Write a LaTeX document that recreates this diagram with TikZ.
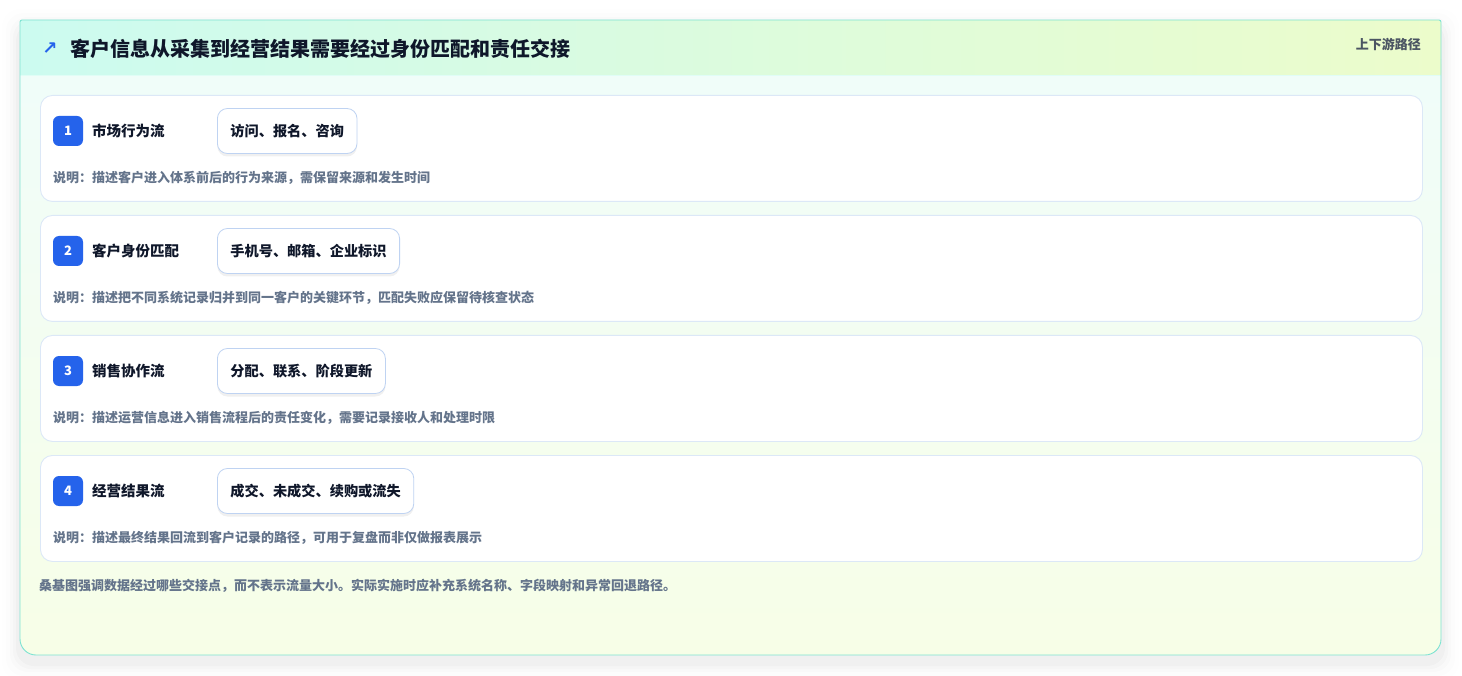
\documentclass[tikz,border=0pt]{standalone}
\usepackage{fontspec}
\setmainfont{Noto Sans CJK SC}
\newfontfamily\symfont{DejaVu Sans}
\usetikzlibrary{shadows}
\definecolor{bluemain}{HTML}{2563EB}
\definecolor{rowline}{HTML}{DCE8F7}
\definecolor{chipline}{HTML}{BFD3F2}
\definecolor{cardline}{HTML}{7EE3D2}
\definecolor{headL}{HTML}{CCFBF0}
\definecolor{headR}{HTML}{ECFCCB}
\definecolor{bodyT}{HTML}{F0FDFA}
\definecolor{bodyB}{HTML}{F7FEE7}
\definecolor{titlec}{HTML}{0F172A}
\definecolor{descc}{HTML}{64748B}
\definecolor{tagc}{HTML}{4B5563}
\tikzset{
  rowbox/.style={draw=rowline, line width=0.9pt, fill=white, rounded corners=12pt},
  badge/.style={fill=bluemain, rounded corners=6pt, minimum width=30pt, minimum height=30pt, inner sep=0pt, text=white, font=\fontsize{13}{13}\selectfont\bfseries},
  lbl/.style={anchor=west, inner sep=0pt, text=titlec, font=\fontsize{14.5}{15}\selectfont\bfseries},
  chip/.style={anchor=west, draw=chipline, line width=0.8pt, fill=white, rounded corners=10pt, minimum height=45pt, inner xsep=13pt, inner ysep=0pt, text=titlec, font=\fontsize{14.2}{15}\selectfont\bfseries, drop shadow={shadow xshift=0pt, shadow yshift=-3pt, opacity=0.06, fill=black}},
  desc/.style={anchor=west, inner sep=0pt, text=descc, font=\fontsize{13}{13}\selectfont\bfseries},
}
\begin{document}
\begin{tikzpicture}[x=1pt,y=-1pt]
\useasboundingbox (0,0) rectangle (1462,676);
\fill[white] (0,0) rectangle (1462,676);
% soft shadow
\foreach \i/\o in {18/0.004,14/0.007,10/0.011,7/0.015,4/0.02}{
  \fill[black, opacity=\o, rounded corners=18pt] (20-\i,20-\i+7) rectangle (1441+\i,655+\i+7);
}
% card body
\shade[top color=bodyT, bottom color=bodyB, rounded corners=16pt] (20,60) rectangle (1441,655);
% header
\shade[left color=headL, right color=headR, rounded corners=2pt] (20,20) rectangle (1441,75);
\fill[left color=headL, right color=headR] (20,65) rectangle (1441,75);
\draw[draw=headL!60!white, line width=0.8pt] (20,75) -- (1441,75);
% card outline
\draw[cardline, line width=0.9pt, rounded corners=2pt] (20,60) -- (20,20) -- (1441,20) -- (1441,60);
\draw[cardline, line width=0.9pt, rounded corners=16pt] (20,60) -- (20,655) -- (1441,655) -- (1441,60);
% title
\node[anchor=center, inner sep=0pt, text=bluemain, font=\symfont\fontsize{18}{18}\selectfont\bfseries] (arr) at (50,49) {↗};
\node[anchor=west, inner sep=0pt, text=titlec, font=\fontsize{20}{20}\selectfont\bfseries] (title) at (70,49) {客户信息从采集到经营结果需要经过身份匹配和责任交接};
\node[anchor=east, inner sep=0pt, text=tagc, font=\fontsize{13}{13}\selectfont\bfseries] (tag) at (1421,44) {上下游路径};
% rows
\foreach \n/\y/\lab/\chiptext/\desctext in {
  1/95/市场行为流/访问、报名、咨询/说明：描述客户进入体系前后的行为来源，需保留来源和发生时间,
  2/215/客户身份匹配/手机号、邮箱、企业标识/说明：描述把不同系统记录归并到同一客户的关键环节，匹配失败应保留待核查状态,
  3/335/销售协作流/分配、联系、阶段更新/说明：描述运营信息进入销售流程后的责任变化，需要记录接收人和处理时限,
  4/455/经营结果流/成交、未成交、续购或流失/说明：描述最终结果回流到客户记录的路径，可用于复盘而非仅做报表展示}{
  \node[rowbox, anchor=north west, minimum width=1382pt, minimum height=106pt, inner sep=0pt] (row\n) at (40,\y) {};
  \node[badge] (badge\n) at (68,\y+36) {\n};
  \node[lbl] (label\n) at (92,\y+36) {\lab};
  \node[chip] (chip\n) at (217,\y+36) {\chiptext};
  \node[desc] (desc\n) at (53,\y+83) {\desctext};
}
\node[desc] (foot) at (39,586) {桑基图强调数据经过哪些交接点，而不表示流量大小。实际实施时应补充系统名称、字段映射和异常回退路径。};
\end{tikzpicture}
\end{document}
